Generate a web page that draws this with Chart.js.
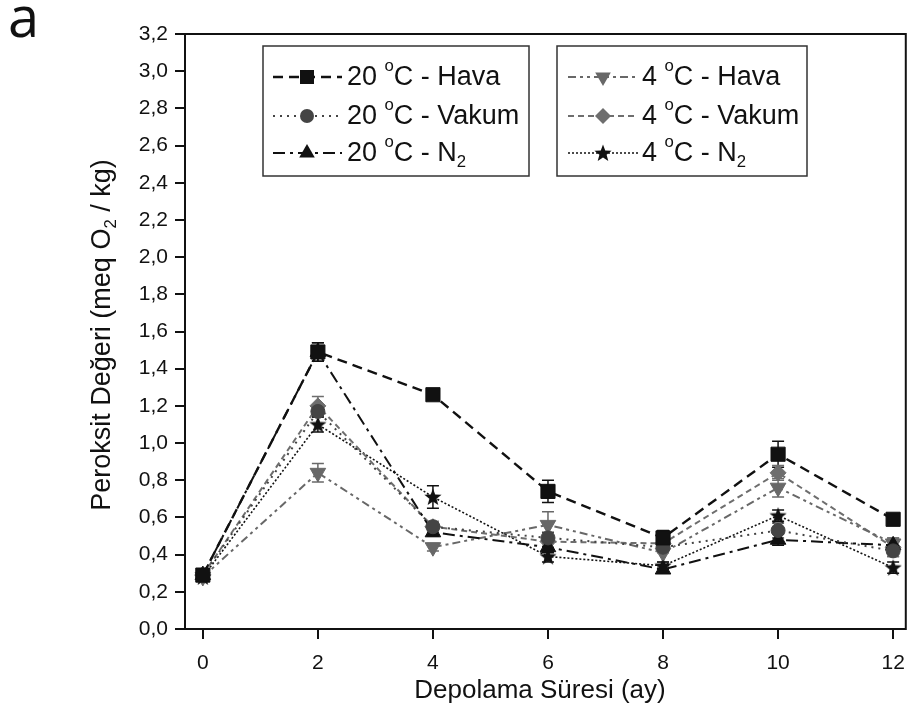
<!DOCTYPE html>
<html>
<head>
<meta charset="utf-8">
<script src="https://cdn.jsdelivr.net/npm/chart.js@4.4.1/dist/chart.umd.min.js"></script>
<style>
  html, body { margin: 0; padding: 0; background: #fff; }
</style>
</head>
<body>
<canvas id="peroksit" width="917" height="725"></canvas>
<script>
// storage time (months)
const months = [0, 2, 4, 6, 8, 10, 12];
const xTicks = [0, 2, 4, 6, 8, 10, 12];

// peroxide values (meq O2 / kg)
const hava20  = [0.29, 1.49, 1.26, 0.74, 0.49, 0.94, 0.59];
const vakum20 = [0.29, 1.17, 0.55, 0.49, 0.44, 0.53, 0.42];
const azot20  = [0.29, 1.49, 0.52, 0.44, 0.32, 0.48, 0.45];
const hava4   = [0.28, 0.84, 0.44, 0.56, 0.41, 0.76, 0.46];
const vakum4  = [0.29, 1.20, 0.55, 0.47, 0.46, 0.84, 0.44];
const azot4   = [0.28, 1.10, 0.71, 0.39, 0.34, 0.61, 0.33];

// error bars (+/-)
const hava20Err  = [0.02, 0.05, 0.02, 0.06, 0.04, 0.07, 0.02];
const vakum20Err = [0.02, 0.03, 0.02, 0.03, 0.03, 0.04, 0.03];
const azot20Err  = [0.02, 0.05, 0.02, 0.03, 0.02, 0.03, 0.02];
const hava4Err   = [0.02, 0.05, 0.02, 0.07, 0.05, 0.05, 0.03];
const vakum4Err  = [0.02, 0.05, 0.03, 0.03, 0.03, 0.04, 0.05];
const azot4Err   = [0.02, 0.04, 0.06, 0.03, 0.02, 0.03, 0.03];

const FONT = '"Liberation Sans", Arial, sans-serif';

function makeStar(size, color) {
    const c = document.createElement('canvas');
    c.width = c.height = size;
    const g = c.getContext('2d');
    g.fillStyle = color;
    g.beginPath();
    for (let i = 0; i < 10; i++) {
        const r = i % 2 ? size * 0.21 : size * 0.5;
        const a = -Math.PI / 2 + i * Math.PI / 5;
        const px = size / 2 + Math.cos(a) * r;
        const py = size / 2 + 0.6 + Math.sin(a) * r;
        i ? g.lineTo(px, py) : g.moveTo(px, py);
    }
    g.closePath();
    g.fill();
    return c;
}
const starImg = makeStar(18, '#111');

function series(label, data, err, color, dash, width, style, radius, rot) {
    return {
        label, data: months.map((m, i) => ({ x: m, y: data[i] })),
        err, borderColor: color, backgroundColor: color,
        borderDash: dash, borderWidth: width,
        pointStyle: style, pointRadius: radius, pointRotation: rot || 0,
        pointBackgroundColor: color, pointBorderColor: color, pointBorderWidth: 1,
        fill: false, tension: 0
    };
}

const datasets = [
    series('20 oC - Hava', hava20, hava20Err, '#111', [10, 6], 2.4, 'rect', 10),
    series('20 oC - Vakum', vakum20, vakum20Err, '#444', [2, 5], 2, 'circle', 7),
    series('20 oC - N2', azot20, azot20Err, '#111', [12, 5, 3, 5], 2, 'triangle', 9),
    series('4 oC - Hava', hava4, hava4Err, '#686868', [8, 4, 3, 4, 3, 4], 2, 'triangle', 9, 180),
    series('4 oC - Vakum', vakum4, vakum4Err, '#6e6e6e', [6, 4], 2, 'rectRot', 8),
    series('4 oC - N2', azot4, azot4Err, '#111', [2, 2], 1.6, starImg, 9),
];

// legend layout
const legendBoxes = [
    { x: 263, y: 46, w: 266, h: 130, idx: [0, 1, 2], lx0: 273, lx1: 342, mx: 307, tx: 347 },
    { x: 557, y: 46, w: 250, h: 130, idx: [3, 4, 5], lx0: 568, lx1: 638, mx: 603, tx: 642 },
];
const legendRows = [77, 116, 153];
const legendTexts = [
    [['20 '], ['o', 'sup'], ['C - Hava']],
    [['20 '], ['o', 'sup'], ['C - Vakum']],
    [['20 '], ['o', 'sup'], ['C - N'], ['2', 'sub']],
    [['4 '], ['o', 'sup'], ['C - Hava']],
    [['4 '], ['o', 'sup'], ['C - Vakum']],
    [['4 '], ['o', 'sup'], ['C - N'], ['2', 'sub']],
];

function drawPieces(ctx, pieces, x, y, size) {
    let cx = x;
    pieces.forEach(([t, k]) => {
        const s = k ? size * 0.62 : size;
        ctx.font = s + 'px ' + FONT;
        const dy = k === 'sup' ? -size * 0.42 : k === 'sub' ? size * 0.3 : 0;
        ctx.fillText(t, cx, y + dy);
        cx += ctx.measureText(t).width;
    });
    return cx - x;
}
function piecesWidth(ctx, pieces, size) {
    let w = 0;
    pieces.forEach(([t, k]) => {
        ctx.font = (k ? size * 0.62 : size) + 'px ' + FONT;
        w += ctx.measureText(t).width;
    });
    return w;
}

function drawMarker(ctx, ds, x, y) {
    ctx.fillStyle = ds.pointBackgroundColor;
    ctx.beginPath();
    if (ds.pointStyle === 'rect') {
        ctx.rect(x - 7, y - 7, 14, 14);
    } else if (ds.pointStyle === 'circle') {
        ctx.arc(x, y, 7, 0, Math.PI * 2);
    } else if (ds.pointStyle === 'triangle') {
        const s = ds.pointRotation ? -1 : 1;
        const r = ds.pointRadius;
        ctx.moveTo(x, y - s * r);
        ctx.lineTo(x + r * 0.866, y + s * r * 0.5);
        ctx.lineTo(x - r * 0.866, y + s * r * 0.5);
        ctx.closePath();
    } else if (ds.pointStyle === 'rectRot') {
        ctx.moveTo(x, y - 8); ctx.lineTo(x + 8, y); ctx.lineTo(x, y + 8); ctx.lineTo(x - 8, y);
        ctx.closePath();
    } else {
        ctx.drawImage(ds.pointStyle, x - 9, y - 9);
        return;
    }
    ctx.fill();
}

const errorBars = {
    id: 'errorBars',
    beforeDatasetsDraw(chart) {
        const ctx = chart.ctx, yS = chart.scales.y;
        ctx.save();
        chart.data.datasets.forEach((ds, i) => {
            const meta = chart.getDatasetMeta(i);
            ctx.strokeStyle = ds.borderColor;
            ctx.lineWidth = 1.5;
            ctx.setLineDash([]);
            meta.data.forEach((pt, j) => {
                const v = ds.data[j].y, e = ds.err[j];
                const t = yS.getPixelForValue(v + e), b = yS.getPixelForValue(v - e);
                ctx.beginPath();
                ctx.moveTo(pt.x, t); ctx.lineTo(pt.x, b);
                ctx.moveTo(pt.x - 6, t); ctx.lineTo(pt.x + 6, t);
                ctx.moveTo(pt.x - 6, b); ctx.lineTo(pt.x + 6, b);
                ctx.stroke();
            });
        });
        ctx.restore();
    }
};

const decorations = {
    id: 'decorations',
    afterDraw(chart) {
        const ctx = chart.ctx, a = chart.chartArea;
        ctx.save();
        // frame
        ctx.strokeStyle = '#111';
        ctx.lineWidth = 2;
        ctx.strokeRect(a.left, a.top, a.right - a.left, a.bottom - a.top);

        // legend boxes
        legendBoxes.forEach(box => {
            ctx.fillStyle = '#fff';
            ctx.fillRect(box.x, box.y, box.w, box.h);
            ctx.strokeStyle = '#333';
            ctx.lineWidth = 1.5;
            ctx.setLineDash([]);
            ctx.strokeRect(box.x, box.y, box.w, box.h);
            box.idx.forEach((di, r) => {
                const ds = chart.data.datasets[di];
                const y = legendRows[r];
                ctx.strokeStyle = ds.borderColor;
                ctx.lineWidth = ds.borderWidth;
                ctx.setLineDash(ds.borderDash);
                ctx.beginPath();
                ctx.moveTo(box.lx0, y); ctx.lineTo(box.lx1, y);
                ctx.stroke();
                ctx.setLineDash([]);
                drawMarker(ctx, ds, box.mx, y);
                ctx.fillStyle = '#111';
                ctx.textBaseline = 'middle';
                ctx.textAlign = 'left';
                drawPieces(ctx, legendTexts[di], box.tx, y + 1, 27);
            });
        });

        // axis titles
        ctx.fillStyle = '#111';
        ctx.textBaseline = 'middle';
        ctx.textAlign = 'center';
        ctx.font = '26px ' + FONT;
        ctx.fillText('Depolama Süresi (ay)', 540, 691);

        const yTitle = [['Peroksit Değeri (meq O'], ['2', 'sub'], [' / kg)']];
        ctx.save();
        ctx.translate(103, 335);
        ctx.rotate(-Math.PI / 2);
        ctx.textAlign = 'left';
        const w = piecesWidth(ctx, yTitle, 27);
        drawPieces(ctx, yTitle, -w / 2, 0, 27);
        ctx.restore();

        // panel letter
        ctx.textAlign = 'left';
        ctx.textBaseline = 'alphabetic';
        ctx.font = '56px "Open Sans", sans-serif';
        ctx.fillText('a', 8, 37);
        ctx.restore();
    }
};

const chart = new Chart(document.getElementById('peroksit'), {
    type: 'line',
    data: { datasets },
    options: {
        responsive: false,
        animation: false,
        layout: { padding: { top: 34, right: 5, left: 0, bottom: 0 } },
        plugins: { legend: { display: false }, tooltip: { enabled: false } },
        scales: {
            x: {
                type: 'linear',
                min: -0.31,
                max: 12.22,
                afterBuildTicks: s => { s.ticks = xTicks.map(v => ({ value: v })); },
                afterFit: s => { s.height = 96; },
                border: { display: false },
                grid: { drawOnChartArea: false, color: '#111', lineWidth: 2, tickLength: 10 },
                ticks: { color: '#111', font: { family: FONT, size: 21 }, padding: 12,
                         callback: v => String(v) }
            },
            y: {
                min: 0,
                max: 3.2,
                afterFit: s => { s.width = 185; },
                border: { display: false },
                grid: { drawOnChartArea: false, color: '#111', lineWidth: 2, tickLength: 10 },
                ticks: { stepSize: 0.2, color: '#111', font: { family: FONT, size: 21 }, padding: 7,
                         callback: v => Number(v).toFixed(1).replace('.', ',') }
            }
        }
    },
    plugins: [errorBars, decorations]
});
</script>
</body>
</html>
